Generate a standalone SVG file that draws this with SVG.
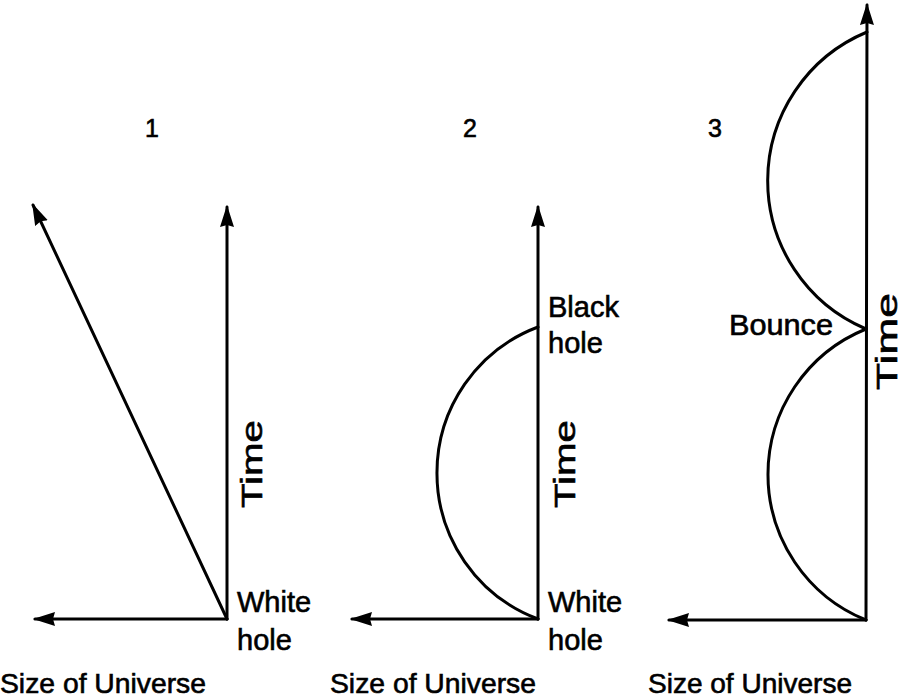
<svg xmlns="http://www.w3.org/2000/svg" width="905" height="698" viewBox="0 0 905 698">
<style>
.ln{stroke:#000;stroke-width:3;fill:none;stroke-linecap:round}
.t,.n,.s{font-family:"Liberation Sans",Arial,Helvetica,sans-serif;fill:#000;stroke:#000;stroke-width:0.6}
.t{font-size:29px}
.n{font-size:25px}
.s{font-size:28px}
</style>
<defs>
<marker id="ah" markerWidth="22" markerHeight="16" refX="20" refY="8" orient="auto" markerUnits="userSpaceOnUse">
<path d="M0,1 L22,8 L0,15 L2,8 Z" fill="#000"/>
</marker>
</defs>
<rect width="905" height="698" fill="#fff"/>
<g id="connectors">
<line class="ln" x1="227" y1="619" x2="227" y2="207" marker-end="url(#ah)"/>
<line class="ln" x1="227" y1="619" x2="35" y2="619" marker-end="url(#ah)"/>
<line class="ln" x1="227" y1="619" x2="33" y2="205" marker-end="url(#ah)"/>
<line class="ln" x1="538" y1="619" x2="538" y2="207" marker-end="url(#ah)"/>
<line class="ln" x1="538" y1="619" x2="352" y2="619" marker-end="url(#ah)"/>
<path class="ln" d="M538,619 A156,156 0 0 1 538,327"/>
<line class="ln" x1="866" y1="620" x2="867" y2="5" marker-end="url(#ah)"/>
<line class="ln" x1="866" y1="620" x2="669" y2="620" marker-end="url(#ah)"/>
<path class="ln" d="M866,620 A157,157 0 0 1 866,329"/>
<path class="ln" d="M866,329 A161,161 0 0 1 867,32"/>
</g>
<g id="panel1">
<text class="n" x="145" y="137">1</text>
<text class="t" transform="translate(262,508) rotate(-90)" textLength="88" lengthAdjust="spacingAndGlyphs">Time</text>
<text class="t" x="237" y="612">White</text>
<text class="t" x="237" y="650">hole</text>
<text class="s" x="0" y="693" textLength="206" lengthAdjust="spacingAndGlyphs">Size of Universe</text>
</g>
<g id="panel2">
<text class="n" x="463" y="137">2</text>
<text class="t" transform="translate(575,508) rotate(-90)" textLength="88" lengthAdjust="spacingAndGlyphs">Time</text>
<text class="t" x="548" y="317">Black</text>
<text class="t" x="548" y="353">hole</text>
<text class="t" x="548" y="612">White</text>
<text class="t" x="548" y="650">hole</text>
<text class="s" x="330" y="693" textLength="206" lengthAdjust="spacingAndGlyphs">Size of Universe</text>
</g>
<g id="panel3">
<text class="n" x="708" y="137">3</text>
<text class="t" x="729" y="335" textLength="104" lengthAdjust="spacingAndGlyphs">Bounce</text>
<text class="t" transform="translate(897,390) rotate(-90)" textLength="97" lengthAdjust="spacingAndGlyphs">Time</text>
<text class="s" x="648" y="693" textLength="204" lengthAdjust="spacingAndGlyphs">Size of Universe</text>
</g>
</svg>
